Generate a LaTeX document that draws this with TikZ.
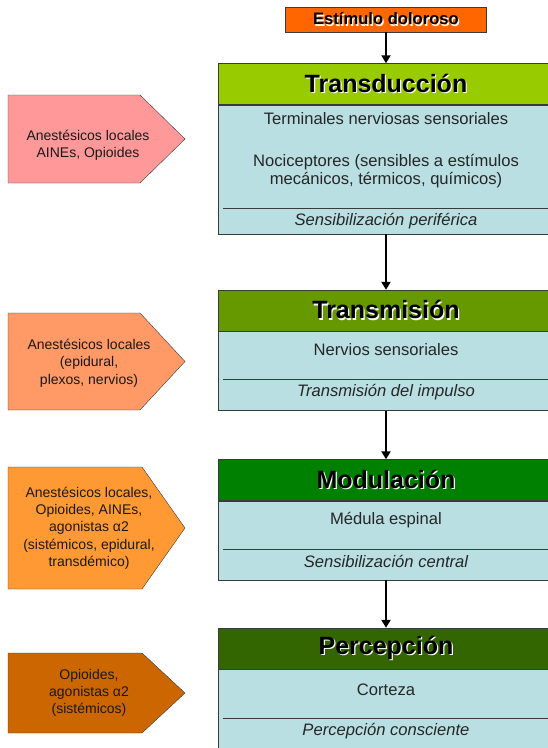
\documentclass[tikz,border=0pt]{standalone}
\usepackage{fontspec}
\setmainfont{Liberation Sans}
\usetikzlibrary{arrows.meta}

\definecolor{edgec}{HTML}{3A3A3A}
\definecolor{bodyc}{HTML}{B9DFE3}
\definecolor{estimc}{HTML}{FF6600}
\definecolor{headA}{HTML}{99CC00}
\definecolor{headB}{HTML}{669900}
\definecolor{headC}{HTML}{008000}
\definecolor{headD}{HTML}{336600}
\definecolor{drugA}{HTML}{FF9999}
\definecolor{drugB}{HTML}{FF9966}
\definecolor{drugC}{HTML}{FF9933}
\definecolor{drugD}{HTML}{CC6600}

% black title with a white shadow
\newcommand\raisedtext[1]{\makebox[0pt][l]{\kern1.2pt\raisebox{-1.2pt}{\textcolor{white}{#1}}}#1}

\begin{document}
\begin{tikzpicture}[x=1pt,y=-1pt,
  head/.style={draw=edgec,rectangle,minimum width=336pt,minimum height=41pt,inner sep=0pt,font=\fontsize{25}{29}\selectfont\bfseries},
  body/.style={draw=edgec,fill=bodyc,rectangle,minimum width=336pt,inner sep=0pt,anchor=north},
  txt/.style={font=\fontsize{16.6}{18.5}\selectfont,text=black!85,align=center},
  itx/.style={font=\fontsize{16.6}{18.5}\selectfont\itshape,text=black!85},
  drug/.style={font=\fontsize{14}{17.3}\selectfont,text=black!90,align=center},
  pent/.style={draw=edgec},
  flow/.style={-{Triangle[width=9pt,length=8pt]},line width=2pt}]

\useasboundingbox (0,0) rectangle (548,748);
\clip (0,0) rectangle (548,748);

\node[draw=edgec,fill=estimc,minimum width=201pt,minimum height=25pt,inner sep=0pt,font=\fontsize{16.6}{19}\selectfont\bfseries] (estim) at (386,19.5) {\raisedtext{Estímulo doloroso}};

% Transduccion
\node[head,fill=headA] at (386,84) (trd) {\raisedtext{Transducción}};
\node[body,minimum height=129pt] at (trd.south) (trdb) {};
\draw[edgec] (223,208) -- (549,208);
\node[txt] at (386,119) (trd1) {Terminales nerviosas sensoriales};
\node[txt] at (386,171) (trd2) {Nociceptores (sensibles a estímulos\\mecánicos, térmicos, químicos)};
\node[itx] at (386,221) (trd3) {Sensibilización periférica};

% Transmision
\node[head,fill=headB] at (386,310.5) (trm) {\raisedtext{Transmisión}};
\node[body,minimum height=79pt] at (trm.south) (trmb) {};
\draw[edgec] (223,379) -- (549,379);
\node[txt] at (386,350) (trm1) {Nervios sensoriales};
\node[itx] at (386,392) (trm2) {Transmisión del impulso};

% Modulacion
\node[head,fill=headC] at (386,480) (mod) {\raisedtext{Modulación}};
\node[body,minimum height=79pt] at (mod.south) (modb) {};
\draw[edgec] (223,549) -- (549,549);
\node[txt] at (386,520) (mod1) {Médula espinal};
\node[itx] at (386,561) (mod2) {Sensibilización central};

% Percepcion
\node[head,fill=headD] at (386,648.5) (per) {\raisedtext{Percepción}};
\node[body,minimum height=90pt] at (per.south) (perb) {};
\draw[edgec] (223,718) -- (549,718);
\node[txt] at (386,690) (per1) {Corteza};
\node[itx] at (386,731) (per2) {Percepción consciente};

\draw[flow] (estim) -- (trd);
\draw[flow] (trdb) -- (trm);
\draw[flow] (trmb) -- (mod);
\draw[flow] (modb) -- (per);

% farmacos
\filldraw[pent,fill=drugA] (8,95) -- (140,95) -- (185,139) -- (140,183) -- (8,183) -- cycle;
\node[drug] at (88,145) (dA) {Anestésicos locales\\AINEs, Opioides};

\filldraw[pent,fill=drugB] (8,313) -- (140,313) -- (185,361.5) -- (140,410) -- (8,410) -- cycle;
\node[drug] at (89,363) (dB) {Anestésicos locales\\(epidural,\\plexos, nervios)};

\filldraw[pent,fill=drugC] (8,467) -- (142,467) -- (185,528) -- (142,589) -- (8,589) -- cycle;
\node[drug] at (89,528) (dC) {Anestésicos locales,\\Opioides, AINEs,\\agonistas α2\\(sistémicos, epidural,\\transdémico)};

\filldraw[pent,fill=drugD] (8,653) -- (142,653) -- (185,693) -- (142,733) -- (8,733) -- cycle;
\node[drug] at (89,693) (dD) {Opioides,\\agonistas α2\\(sistémicos)};
\end{tikzpicture}
\end{document}
